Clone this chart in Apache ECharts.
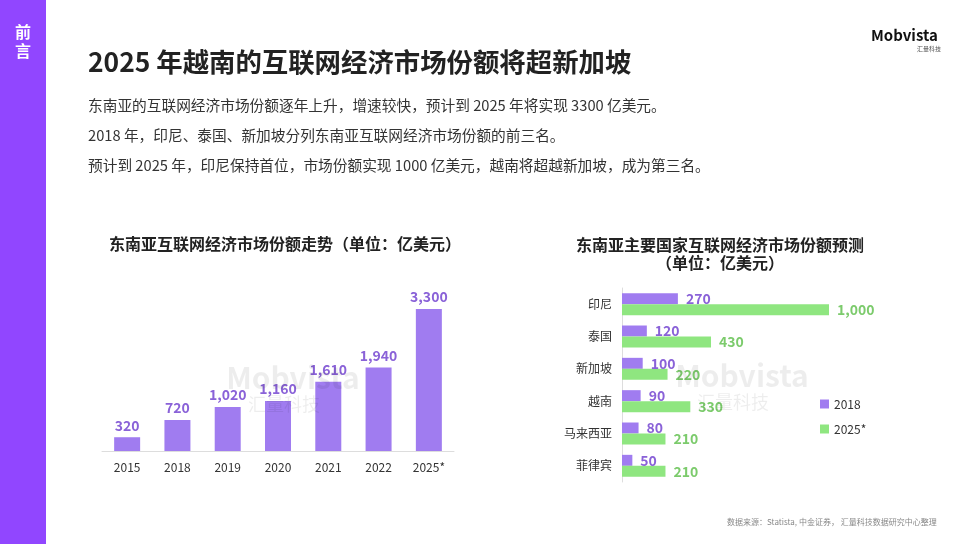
<!DOCTYPE html>
<html><head><meta charset="utf-8">
<script src="https://cdn.jsdelivr.net/npm/echarts@6/dist/echarts.min.js"></script>
<style>html,body{margin:0;padding:0;background:#fff}#c{width:968px;height:544px}</style>
</head><body><div id="c"></div>
<script>
const years = ['2015','2018','2019','2020','2021','2022','2025*'];
const marketValues = [320,720,1020,1160,1610,1940,3300];
const countries = ['印尼','泰国','新加坡','越南','马来西亚','菲律宾'];
const values2018 = [270,120,100,90,80,50];
const values2025 = [1000,430,220,330,210,210];
const seriesNames = ['2018','2025*'];

const FONT = '"Noto Sans CJK SC","Noto Sans",sans-serif';
const PURPLE = '#A07CF0', PURPLE_TXT = '#8A62D8', GREEN = '#8FE680', GREEN_TXT = '#7CCB6C';
const fmt = p => Number(p.value).toLocaleString('en-US');

const chart = echarts.init(document.getElementById('c'));
chart.setOption({
  backgroundColor:'#fff',
  textStyle:{fontFamily:FONT},
  animation:false,
  graphic:[
    {type:'rect',shape:{x:0,y:0,width:46,height:544},style:{fill:'#9146FF'}},
    {type:'text',left:15,top:22,style:{text:'前\n言',fill:'#fff',font:'bold 16px '+FONT,lineHeight:19}},
    {type:'text',x:88,y:62,style:{text:'2025 年越南的互联网经济市场份额将超新加坡',fill:'#222',font:'bold 26.4px '+FONT,verticalAlign:'middle'}},
    {type:'text',x:88,y:105,style:{text:'东南亚的互联网经济市场份额逐年上升，增速较快，预计到 2025 年将实现 3300 亿美元。',fill:'#333',font:'14.7px '+FONT,verticalAlign:'middle'}},
    {type:'text',x:88,y:135,style:{text:'2018 年，印尼、泰国、新加坡分列东南亚互联网经济市场份额的前三名。',fill:'#333',font:'14.7px '+FONT,verticalAlign:'middle'}},
    {type:'text',x:88,y:165,style:{text:'预计到 2025 年，印尼保持首位，市场份额实现 1000 亿美元，越南将超越新加坡，成为第三名。',fill:'#333',font:'14.7px '+FONT,verticalAlign:'middle'}},
    {type:'text',left:871,top:28,style:{text:'Mobvista',fill:'#111',font:'bold 15px '+FONT}},
    {type:'text',left:917,top:46,style:{text:'汇量科技',fill:'#555',font:'6px '+FONT}},
    {type:'text',x:285,y:244,style:{text:'东南亚互联网经济市场份额走势（单位：亿美元）',fill:'#222',font:'bold 16px '+FONT,align:'center',verticalAlign:'middle'}},
    {type:'text',x:720,y:245,style:{text:'东南亚主要国家互联网经济市场份额预测',fill:'#222',font:'bold 16px '+FONT,align:'center',verticalAlign:'middle'}},
    {type:'text',x:720,y:263,style:{text:'（单位：亿美元）',fill:'#222',font:'bold 16px '+FONT,align:'center',verticalAlign:'middle'}},
    {type:'text',x:293,y:378,z:100,style:{text:'Mobvista',fill:'rgba(0,0,0,0.07)',font:'bold 30px '+FONT,align:'center',verticalAlign:'middle'}},
    {type:'text',x:284,y:404,z:100,style:{text:'汇量科技',fill:'rgba(0,0,0,0.07)',font:'18px '+FONT,align:'center',verticalAlign:'middle'}},
    {type:'text',x:742,y:376,z:100,style:{text:'Mobvista',fill:'rgba(0,0,0,0.07)',font:'bold 30px '+FONT,align:'center',verticalAlign:'middle'}},
    {type:'text',x:733,y:402,z:100,style:{text:'汇量科技',fill:'rgba(0,0,0,0.07)',font:'18px '+FONT,align:'center',verticalAlign:'middle'}},
    {type:'text',left:727,top:518,style:{text:'数据来源：Statista, 中金证券， 汇量科技数据研究中心整理',fill:'#888',font:'8px '+FONT}}
  ],
  legend:{
    data:seriesNames, orient:'vertical', left:815, top:393, itemWidth:9, itemHeight:9, itemGap:13,
    icon:'rect', textStyle:{color:'#333',fontSize:12,fontFamily:FONT}
  },
  grid:[
    {left:102,width:352,top:309,bottom:93,containLabel:false},
    {left:622,width:207,top:288,height:194,containLabel:false}
  ],
  xAxis:[
    {type:'category',gridIndex:0,data:years,axisLine:{lineStyle:{color:'#ddd'}},axisTick:{show:false},
     axisLabel:{color:'#333',fontSize:12,margin:10,fontFamily:FONT}},
    {type:'value',gridIndex:1,min:0,max:1000,show:false}
  ],
  yAxis:[
    {type:'value',gridIndex:0,min:0,max:3300,show:false},
    {type:'category',gridIndex:1,data:countries,inverse:true,axisLine:{lineStyle:{color:'#ddd'}},axisTick:{show:false},
     axisLabel:{color:'#333',fontSize:12,margin:10,fontFamily:FONT}}
  ],
  series:[
    {type:'bar',xAxisIndex:0,yAxisIndex:0,data:marketValues,barWidth:26,itemStyle:{color:PURPLE},
     label:{show:true,position:'top',distance:5,color:PURPLE_TXT,fontSize:14,fontWeight:'bold',formatter:fmt}},
    {name:seriesNames[0],type:'bar',xAxisIndex:1,yAxisIndex:1,data:values2018,barWidth:11,barGap:'0%',itemStyle:{color:PURPLE},
     label:{show:true,position:'right',distance:8,color:PURPLE_TXT,fontSize:14,fontWeight:'bold',formatter:fmt}},
    {name:seriesNames[1],type:'bar',xAxisIndex:1,yAxisIndex:1,data:values2025,barWidth:11,barGap:'0%',itemStyle:{color:GREEN},
     label:{show:true,position:'right',distance:8,color:GREEN_TXT,fontSize:14,fontWeight:'bold',formatter:fmt}}
  ]
});
</script></body></html>
